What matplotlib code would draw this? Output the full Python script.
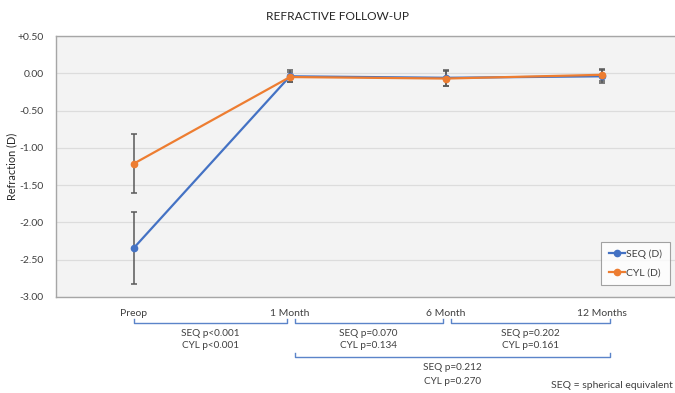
import matplotlib
matplotlib.use("Agg")
import matplotlib.pyplot as plt
import matplotlib.transforms as mtransforms

plt.rcParams['font.family'] = ['Lato', 'DejaVu Sans']

# follow-up visits and mean refraction (D) with SD
visits = ["Preop", "1 Month", "6 Month", "12 Months"]
seq_mean = [-2.34, -0.04, -0.06, -0.04]
seq_sd = [0.48, 0.08, 0.11, 0.09]
cyl_mean = [-1.21, -0.05, -0.07, -0.02]
cyl_sd = [0.40, 0.07, 0.10, 0.08]

yticks = [0.5, 0.0, -0.5, -1.0, -1.5, -2.0, -2.5, -3.0]
ytick_labels = ["+0.50", "0.00", "-0.50", "-1.00", "-1.50", "-2.00", "-2.50", "-3.00"]

# pairwise comparisons: (from visit, to visit, bracket row, SEQ p, CYL p)
comparisons = [
    (0, 1, 0, "SEQ p<0.001", "CYL p<0.001"),
    (1, 2, 0, "SEQ p=0.070", "CYL p=0.134"),
    (2, 3, 0, "SEQ p=0.202", "CYL p=0.161"),
    (1, 3, 1, "SEQ p=0.212", "CYL p=0.270"),
]

blue = "#4472C4"
orange = "#ED7D31"
err_col = "#595959"
text_col = "#404040"

H = 393.0
fig = plt.figure(figsize=(6.75, 3.93), dpi=100)
ax = fig.add_axes([0.083, 0.2443, 0.924, 0.664])
ax.set_facecolor("#f3f3f3")

x = list(range(len(visits)))
for mean, sd, col, name in [(seq_mean, seq_sd, blue, "SEQ (D)"),
                            (cyl_mean, cyl_sd, orange, "CYL (D)")]:
    ax.errorbar(x, mean, yerr=sd, fmt="none", ecolor=err_col, elinewidth=1.1,
                capsize=2, capthick=1.1, zorder=3)
    ax.plot(x, mean, color=col, lw=1.6, marker="o", ms=4.5, label=name, zorder=4)

ax.set_xlim(-0.5, 3.5)
ax.set_ylim(-3.0, 0.5)
ax.set_yticks(yticks)
ax.set_yticklabels(ytick_labels)
ax.set_xticks(x)
ax.set_xticklabels(visits)
ax.tick_params(length=0, labelsize=7.5, colors=text_col, pad=9)
ax.grid(axis="y", color="#dcdcdc", lw=0.9)
ax.set_axisbelow(True)
for side in ["left", "top", "bottom", "right"]:
    ax.spines[side].set_color("#a6a6a6")
    ax.spines[side].set_linewidth(1.0)

ax.set_ylabel("Refraction (D)", fontsize=7.8, color="#262626")
ax.yaxis.set_label_coords(-0.062, 0.5)
fig.text(0.5, 0.957, "REFRACTIVE FOLLOW-UP", ha="center", va="center",
         fontsize=8.6, color="#262626")

leg = ax.legend(loc="lower right", bbox_to_anchor=(0.984, 0.046), borderaxespad=0,
                fontsize=7.5, frameon=True, fancybox=False, handlelength=1.6,
                handletextpad=0.1, labelspacing=0.9, borderpad=0.7)
leg.get_frame().set_edgecolor("#8c8c8c")
leg.get_frame().set_linewidth(0.8)
leg.get_frame().set_facecolor("white")
for t in leg.get_texts():
    t.set_color(text_col)

# significance brackets below the category axis
trans = mtransforms.blended_transform_factory(ax.transData, fig.transFigure)
row_y = [322.5, 357]
row_text = [(334, 346), (367, 382)]
tick = 4 / H
for i, j, row, seq_p, cyl_p in comparisons:
    x0 = i + (0.03 if i > 0 else 0.0)
    x1 = j + (0.05 if j == len(visits) - 1 else -0.02)
    yb = 1 - row_y[row] / H
    ax.plot([x0, x0, x1, x1], [yb + tick, yb, yb, yb + tick], color="#5b84c9",
            lw=1.0, transform=trans, clip_on=False)
    xm = (x0 + x1) / 2
    for label, ty in zip([seq_p, cyl_p], row_text[row]):
        ax.text(xm, 1 - ty / H, label, transform=trans, ha="center", va="center",
                fontsize=7.2, color=text_col)

fig.text(0.997, 1 - 385 / H, "SEQ = spherical equivalent", ha="right", va="center",
         fontsize=7.5, color=text_col)

fig.savefig("out.png", dpi=100)
